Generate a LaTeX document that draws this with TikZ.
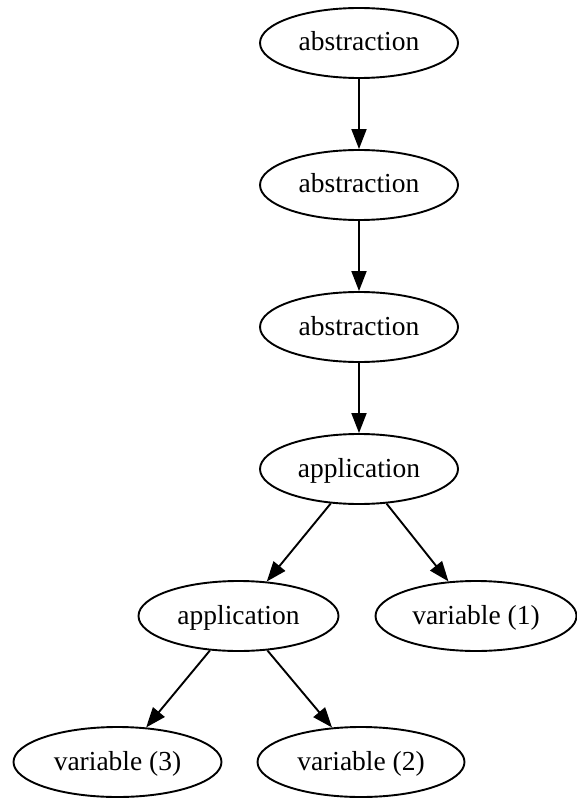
\documentclass[tikz,border=0pt]{standalone}
\usepackage{fontspec}
\setmainfont{Liberation Serif}
\usetikzlibrary{shapes.geometric,arrows.meta}
\begin{document}
\begin{tikzpicture}[x=1pt,y=-1pt,
  gnode/.style={ellipse,draw,line width=1.9pt,inner sep=0pt,minimum height=70pt,
    text height=21pt,text depth=5pt,
    font=\fontsize{27.5pt}{33pt}\selectfont},
  edge/.style={line width=1.9pt,-{Triangle[length=20pt,width=15pt]}}]
\useasboundingbox (0,0) rectangle (577,799);
\node[gnode,minimum width=198pt] (a1) at (359,43) {abstraction};
\node[gnode,minimum width=198pt] (a2) at (359,185) {abstraction};
\node[gnode,minimum width=198pt] (a3) at (359,327) {abstraction};
\node[gnode,minimum width=198pt] (p1) at (359,469) {application};
\node[gnode,minimum width=200pt] (p2) at (238.5,616) {application};
\node[gnode,minimum width=201pt] (v1) at (476,616) {variable (1)};
\node[gnode,minimum width=208pt] (v3) at (117.5,762) {variable (3)};
\node[gnode,minimum width=207pt] (v2) at (361,762) {variable (2)};
\draw[edge] (a1) -- (a2);
\draw[edge] (a2) -- (a3);
\draw[edge] (a3) -- (p1);
\draw[edge] (p1) -- (p2);
\draw[edge] (p1) -- (v1);
\draw[edge] (p2) -- (v3);
\draw[edge] (p2) -- (v2);
\end{tikzpicture}
\end{document}
